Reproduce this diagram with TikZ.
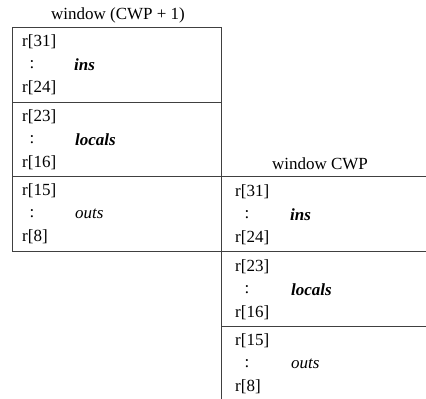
\documentclass[tikz,border=0pt]{standalone}
\usepackage{fontspec}
\setmainfont{Liberation Serif}
\begin{document}
\begin{tikzpicture}[x=1pt,y=-1pt,
  frame/.style={line width=0.9pt,draw=black!75},
  reg/.style={anchor=west,inner sep=0pt,font=\fontsize{17}{19}\selectfont},
  dots/.style={anchor=center,inner sep=0pt,font=\fontsize{17}{19}\selectfont},
  title/.style={anchor=center,inner sep=0pt,font=\fontsize{17}{19}\selectfont},
  nmb/.style={anchor=west,inner sep=0pt,font=\fontsize{17}{19}\selectfont\bfseries\itshape},
  nmi/.style={anchor=west,inner sep=0pt,font=\fontsize{17}{19}\selectfont\itshape}]
\useasboundingbox (0,0) rectangle (426,399);
% frame coordinates
\coordinate (L0) at (12,27);   \coordinate (M0) at (221,27);
\coordinate (L1) at (12,102);  \coordinate (M1) at (221,102);
\coordinate (L2) at (12,176);  \coordinate (M2) at (221,176); \coordinate (R2) at (426,176);
\coordinate (L3) at (12,251);  \coordinate (M3) at (221,251); \coordinate (R3) at (426,251);
\coordinate (M4) at (221,326); \coordinate (R4) at (426,326);
\coordinate (M5) at (221,399);
% lines
\draw[frame] (L3) -- (L0) -- (M0);
\draw[frame] (M0) -- (M5);
\draw[frame] (L1) -- (M1);
\draw[frame] (L2) -- (R2);
\draw[frame] (L3) -- (R3);
\draw[frame] (M4) -- (R4);
% titles
\node[title] (t1) at (118,15) {window (CWP + 1)};
\node[title] (t2) at (320,164) {window CWP};
% left window
\node[reg] (a1) at (22,42) {r[31]};
\node[dots] (a2) at (32,65) {:};
\node[nmb] (a3) at (74,65) {ins};
\node[reg] (a4) at (22,88) {r[24]};
\node[reg] (b1) at (22,117) {r[23]};
\node[dots] (b2) at (32,140) {:};
\node[nmb] (b3) at (75,140) {locals};
\node[reg] (b4) at (22,163) {r[16]};
\node[reg] (c1) at (22,191) {r[15]};
\node[dots] (c2) at (32,214) {:};
\node[nmi] (c3) at (75,214) {outs};
\node[reg] (c4) at (22,237) {r[8]};
% right window
\node[reg] (d1) at (235,192) {r[31]};
\node[dots] (d2) at (247,215) {:};
\node[nmb] (d3) at (290,215) {ins};
\node[reg] (d4) at (235,238) {r[24]};
\node[reg] (e1) at (235,267) {r[23]};
\node[dots] (e2) at (247,290) {:};
\node[nmb] (e3) at (291,290) {locals};
\node[reg] (e4) at (235,313) {r[16]};
\node[reg] (f1) at (235,341) {r[15]};
\node[dots] (f2) at (247,364) {:};
\node[nmi] (f3) at (291,364) {outs};
\node[reg] (f4) at (235,387) {r[8]};
\end{tikzpicture}
\end{document}
